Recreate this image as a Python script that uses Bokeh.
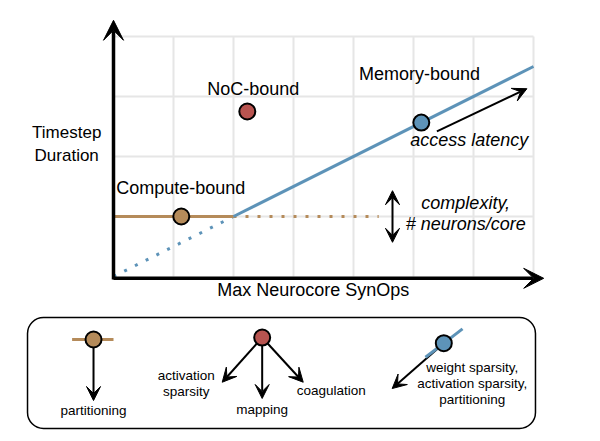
from bokeh.plotting import figure
from bokeh.models import Range1d, Arrow, VeeHead, BoxAnnotation
from bokeh.core.properties import value
from bokeh.embed import file_html
from bokeh.resources import INLINE

# ---- main chart data (data units: x = SynOps, y = timestep duration) ----
grid_x = [1, 2, 3, 4, 5, 6, 7]
grid_y = [1, 2, 3, 4]
x_max = 7
y_max = 4

compute_x = [0, 2]
compute_y = [1, 1]
compute_ext_x = [2, 4.42]
compute_ext_y = [1, 1]
memory_x = [2, 7]
memory_y = [1, 3.5]
memory_ext_x = [0, 2]
memory_ext_y = [0, 1]

pt_compute = (1.13, 1.0)
pt_noc = (2.23, 2.75)
pt_memory = (5.13, 2.565)

latency_arrow = (5.39, 2.42, 6.89, 3.13)
complexity_arrow = (4.65, 0.57, 4.65, 1.43)

labels_x = [2.33, 5.1, 1.12]
labels_y = [3.13, 3.38, 1.48]
labels_text = ["NoC-bound", "Memory-bound", "Compute-bound"]

ital_x = [5.93, 5.87, 5.87]
ital_y = [2.28, 1.23, 0.87]
ital_text = ["access latency", "complexity,", "# neurons/core"]

xlab_x = [3.33]
xlab_y = [-0.23]
xlab_text = ["Max Neurocore SynOps"]
ylab_x = [-0.78, -0.78]
ylab_y = [2.4, 2.02]
ylab_text = ["Timestep", "Duration"]

# ---- legend panel ----
leg_box = (-1.433, 7.033, -0.683, -2.533)
leg_brown_line_x = [-0.69, 0.0]
leg_brown_line_y = [-1.05, -1.05]
leg_brown_pt = (-0.333, -1.05)
leg_brown_arrow_end = (-0.333, -2.067)
leg_red_pt = (2.478, -1.017)
leg_red_arrow_ends = [(1.812, -1.762), (2.478, -2.033), (3.162, -1.762)]
leg_blue_line_x = [5.2, 5.817]
leg_blue_line_y = [-1.345, -0.872]
leg_blue_pt = (5.505, -1.112)
leg_blue_arrow_end = (4.645, -1.867)

leg_text_x = [-0.333, 1.212, 1.212, 2.478, 3.628, 5.978, 5.978, 5.978]
leg_text_y = [-2.233, -1.65, -1.917, -2.217, -1.9, -1.512, -1.783, -2.05]
leg_text = ["partitioning", "activation", "sparsity", "mapping", "coagulation",
            "weight sparsity,", "activation sparsity,", "partitioning"]

BROWN = "#B58B5A"
RED = "#B85450"
BLUE = "#5D93B8"
GRID = "#e6e6e6"
FONT = value("Liberation Sans")

p = figure(width=600, height=441, x_range=Range1d(-113 / 60, 487 / 60),
           y_range=Range1d(-165 / 60, 276 / 60), min_border=0,
           toolbar_location=None, output_backend="svg",
           x_axis_location=None, y_axis_location=None,
           outline_line_color=None)
p.xgrid.visible = False
p.ygrid.visible = False

# grid (bounded to the plotting box)
p.segment(x0=grid_x, y0=[0] * len(grid_x), x1=grid_x, y1=[y_max] * len(grid_x),
          line_color=GRID, line_width=2)
p.segment(x0=[0] * len(grid_y), y0=grid_y, x1=[x_max] * len(grid_y), y1=grid_y,
          line_color=GRID, line_width=2)

# lines
p.line(memory_ext_x, memory_ext_y, line_color=BLUE, line_width=3, line_dash="3 9")
p.line(compute_ext_x, compute_ext_y, line_color=BROWN, line_width=3, line_dash="3 9")
p.line(compute_x, compute_y, line_color=BROWN, line_width=3)
p.line(memory_x, memory_y, line_color=BLUE, line_width=3)

# axes with arrowheads
p.add_layout(Arrow(x_start=0, y_start=-0.03, x_end=7.17, y_end=-0.03, line_width=3.5,
                   end=VeeHead(size=20, fill_color="black", line_color="black")))
p.add_layout(Arrow(x_start=0, y_start=-0.05, x_end=0, y_end=4.27, line_width=3.5,
                   end=VeeHead(size=20, fill_color="black", line_color="black")))

# annotation arrows
p.add_layout(Arrow(x_start=latency_arrow[0], y_start=latency_arrow[1],
                   x_end=latency_arrow[2], y_end=latency_arrow[3], line_width=2,
                   end=VeeHead(size=14, fill_color="black", line_color="black")))
p.add_layout(Arrow(x_start=complexity_arrow[0], y_start=complexity_arrow[1],
                   x_end=complexity_arrow[2], y_end=complexity_arrow[3], line_width=2,
                   start=VeeHead(size=14, fill_color="black", line_color="black"),
                   end=VeeHead(size=14, fill_color="black", line_color="black")))

# points
p.scatter([pt_compute[0]], [pt_compute[1]], size=16, fill_color=BROWN, line_color="black", line_width=2)
p.scatter([pt_noc[0]], [pt_noc[1]], size=16, fill_color=RED, line_color="black", line_width=2)
p.scatter([pt_memory[0]], [pt_memory[1]], size=16, fill_color=BLUE, line_color="black", line_width=2)

# texts
p.text(labels_x, labels_y, text=labels_text, text_font=FONT, text_font_size="18px",
       text_align="center", text_baseline="middle", text_color="black")
p.text(ital_x, ital_y, text=ital_text, text_font=FONT, text_font_size="18px",
       text_font_style="italic", text_align="center", text_baseline="middle", text_color="black")
p.text(xlab_x, xlab_y, text=xlab_text, text_font=FONT, text_font_size="18px",
       text_align="center", text_baseline="middle", text_color="black")
p.text(ylab_x, ylab_y, text=ylab_text, text_font=FONT, text_font_size="17px",
       text_align="center", text_baseline="middle", text_color="black")

# legend panel
p.add_layout(BoxAnnotation(left=leg_box[0], right=leg_box[1], top=leg_box[2], bottom=leg_box[3],
                           fill_color=None, fill_alpha=0, line_color="black", line_alpha=1,
                           line_width=1.5, border_radius=16, level="underlay"))

p.line(leg_brown_line_x, leg_brown_line_y, line_color=BROWN, line_width=3)
p.line(leg_blue_line_x, leg_blue_line_y, line_color=BLUE, line_width=3)

def arrow_from(pt, end):
    p.add_layout(Arrow(x_start=pt[0], y_start=pt[1], x_end=end[0], y_end=end[1],
                       line_width=2, level="underlay",
                       end=VeeHead(size=14, fill_color="black", line_color="black")))

arrow_from(leg_brown_pt, leg_brown_arrow_end)
for e in leg_red_arrow_ends:
    arrow_from(leg_red_pt, e)
arrow_from(leg_blue_pt, leg_blue_arrow_end)

p.scatter([leg_brown_pt[0]], [leg_brown_pt[1]], size=16, fill_color=BROWN, line_color="black", line_width=2)
p.scatter([leg_red_pt[0]], [leg_red_pt[1]], size=16, fill_color=RED, line_color="black", line_width=2)
p.scatter([leg_blue_pt[0]], [leg_blue_pt[1]], size=16, fill_color=BLUE, line_color="black", line_width=2)

p.text(leg_text_x, leg_text_y, text=leg_text, text_font=FONT, text_font_size="13.5px",
       text_align="center", text_baseline="middle", text_color="black")

open("out.html", "w").write(file_html(p, INLINE))
